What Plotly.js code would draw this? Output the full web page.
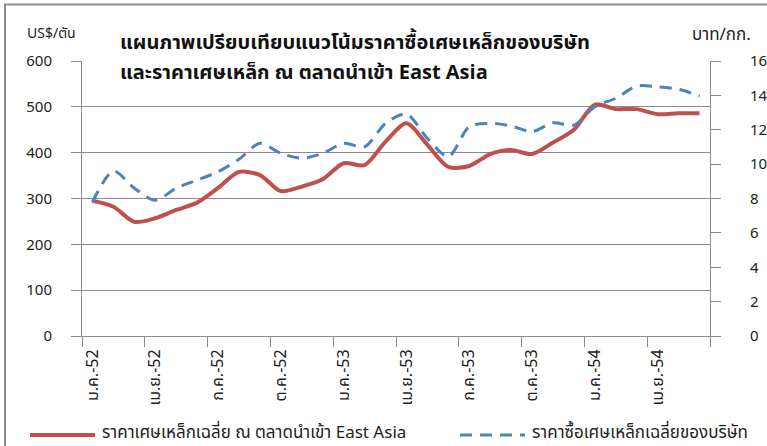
<!DOCTYPE html>
<html>
<head>
<meta charset="utf-8">
<script src="https://cdn.plot.ly/plotly-3.0.1.min.js"></script>
<style>html,body{margin:0;padding:0;background:#fff;}#chart{width:767px;height:446px;}</style>
</head>
<body>
<div id="chart"></div>
<script>
// 30 monthly categories, Jan-2552 .. Jun-2554
const months = [
  "ม.ค.-52","ก.พ.-52","มี.ค.-52","เม.ย.-52","พ.ค.-52","มิ.ย.-52","ก.ค.-52","ส.ค.-52","ก.ย.-52","ต.ค.-52","พ.ย.-52","ธ.ค.-52",
  "ม.ค.-53","ก.พ.-53","มี.ค.-53","เม.ย.-53","พ.ค.-53","มิ.ย.-53","ก.ค.-53","ส.ค.-53","ก.ย.-53","ต.ค.-53","พ.ย.-53","ธ.ค.-53",
  "ม.ค.-54","ก.พ.-54","มี.ค.-54","เม.ย.-54","พ.ค.-54","มิ.ย.-54"
];
// US$/ton, East Asia import scrap price (left axis)
const eastAsiaPrice = [295,282,249,257,275,291,323,358,351,316,326,342,377,373,424,464,417,369,371,397,406,397,422,450,505,495,495,484,486,486];
// Baht/kg, company average purchase price (right axis)
const companyPrice = [7.8,9.6,8.6,7.9,8.6,9.07,9.56,10.28,11.21,10.63,10.34,10.63,11.21,11.01,12.37,12.91,11.5,10.43,12.18,12.37,12.22,11.89,12.41,12.27,13.34,13.83,14.54,14.5,14.35,13.96];
const tickLabelIdx = [0,3,6,9,12,15,18,21,24,27];
const boundaries = [-0.5,2.5,5.5,8.5,11.5,14.5,17.5,20.5,23.5,26.5,29.5];

const titleLine1 = "แผนภาพเปรียบเทียบแนวโน้มราคาซื้อเศษเหล็กของบริษัท";
const titleLine2 = "และราคาเศษเหล็ก ณ ตลาดนำเข้า East Asia";
const leftUnit = "US$/ตัน";
const rightUnit = "บาท/กก.";
const name1 = "ราคาเศษเหล็กเฉลี่ย ณ ตลาดนำเข้า East Asia";
const name2 = "ราคาซื้อเศษเหล็กเฉลี่ยของบริษัท";

const FONT = "'Noto Sans Thai', Loma, Tahoma, 'Liberation Sans', Arial, sans-serif";
const red = "#C0504D", blue = "#4F81BD", grey = "#8C8C8C";

const xs = months.map((_, i) => i);

const traces = [
  {x: xs, y: eastAsiaPrice, type: "scatter", mode: "lines", name: name1,
   line: {color: red, width: 4, shape: "spline", smoothing: 0.8}, yaxis: "y", showlegend: false, hoverinfo: "skip"},
  {x: xs, y: companyPrice, type: "scatter", mode: "lines", name: name2,
   line: {color: blue, width: 3, shape: "spline", smoothing: 0.8, dash: "12px,8px"}, yaxis: "y2", showlegend: false, hoverinfo: "skip"}
];

const L = 82, R = 710, T = 61, B = 336;
const xp = p => (p - L) / (R - L);
const yp = q => (B - q) / (B - T);

const layout = {
  width: 767, height: 446,
  margin: {l: L, r: 767 - R, t: T, b: 446 - B, pad: 0},
  paper_bgcolor: "#ffffff", plot_bgcolor: "#ffffff",
  font: {family: FONT, size: 13, color: "#222"},
  showlegend: false,
  xaxis: {
    range: [-0.5, 29.5], tickmode: "array",
    tickvals: tickLabelIdx, ticktext: tickLabelIdx.map(i => months[i]),
    tickangle: -90, ticks: "", showgrid: false, zeroline: false,
    showline: true, linecolor: grey, linewidth: 1,
    tickfont: {family: FONT, size: 16, color: "#222"},
    minor: {tickmode: "array", tickvals: boundaries, ticks: "outside", ticklen: 10, tickcolor: grey, tickwidth: 1, showgrid: false},
    ticklabelstandoff: 6, fixedrange: true
  },
  yaxis: {
    range: [0, 600], dtick: 100, tick0: 0, showgrid: true, gridcolor: grey, gridwidth: 1,
    zeroline: false, showline: true, linecolor: grey, linewidth: 1,
    ticks: "outside", ticklen: 10, tickcolor: grey,
    tickfont: {family: FONT, size: 15, color: "#222"}, ticklabelstandoff: 16, fixedrange: true
  },
  yaxis2: {
    range: [0, 16], dtick: 2, tick0: 0, overlaying: "y", side: "right", showgrid: false,
    zeroline: false, showline: true, linecolor: grey, linewidth: 1,
    ticks: "outside", ticklen: 10, tickcolor: grey,
    tickfont: {family: FONT, size: 15, color: "#222"}, ticklabelstandoff: 26, fixedrange: true
  },
  shapes: [
    {type: "rect", xref: "paper", yref: "paper", x0: xp(5), x1: xp(775), y0: yp(455), y1: yp(4.5),
     line: {color: grey, width: 2}, fillcolor: "rgba(0,0,0,0)", layer: "above"},
    {type: "line", xref: "paper", yref: "paper", x0: xp(30), x1: xp(95), y0: yp(435), y1: yp(435),
     line: {color: red, width: 4}},
    {type: "line", xref: "paper", yref: "paper", x0: xp(460), x1: xp(525), y0: yp(435), y1: yp(435),
     line: {color: blue, width: 3, dash: "12px,8px"}}
  ],
  annotations: [
    {text: "<b>" + titleLine1 + "</b>", xref: "paper", yref: "paper", x: xp(118), y: yp(43), xanchor: "left", yanchor: "middle", showarrow: false, font: {family: FONT, size: 20, color: "#111"}},
    {text: "<b>" + titleLine2 + "</b>", xref: "paper", yref: "paper", x: xp(118), y: yp(73), xanchor: "left", yanchor: "middle", showarrow: false, font: {family: FONT, size: 20, color: "#111"}},
    {text: leftUnit, xref: "paper", yref: "paper", x: xp(25), y: yp(33), xanchor: "left", yanchor: "middle", showarrow: false, font: {family: FONT, size: 14, color: "#222"}},
    {text: rightUnit, xref: "paper", yref: "paper", x: xp(690), y: yp(35), xanchor: "left", yanchor: "middle", showarrow: false, font: {family: FONT, size: 17, color: "#222"}},
    {text: name1, xref: "paper", yref: "paper", x: xp(100), y: yp(433), xanchor: "left", yanchor: "middle", showarrow: false, font: {family: FONT, size: 17, color: "#222"}},
    {text: name2, xref: "paper", yref: "paper", x: xp(530), y: yp(433), xanchor: "left", yanchor: "middle", showarrow: false, font: {family: FONT, size: 17, color: "#222"}}
  ]
};

Plotly.newPlot("chart", traces, layout, {displayModeBar: false, staticPlot: true});
</script>
</body>
</html>
